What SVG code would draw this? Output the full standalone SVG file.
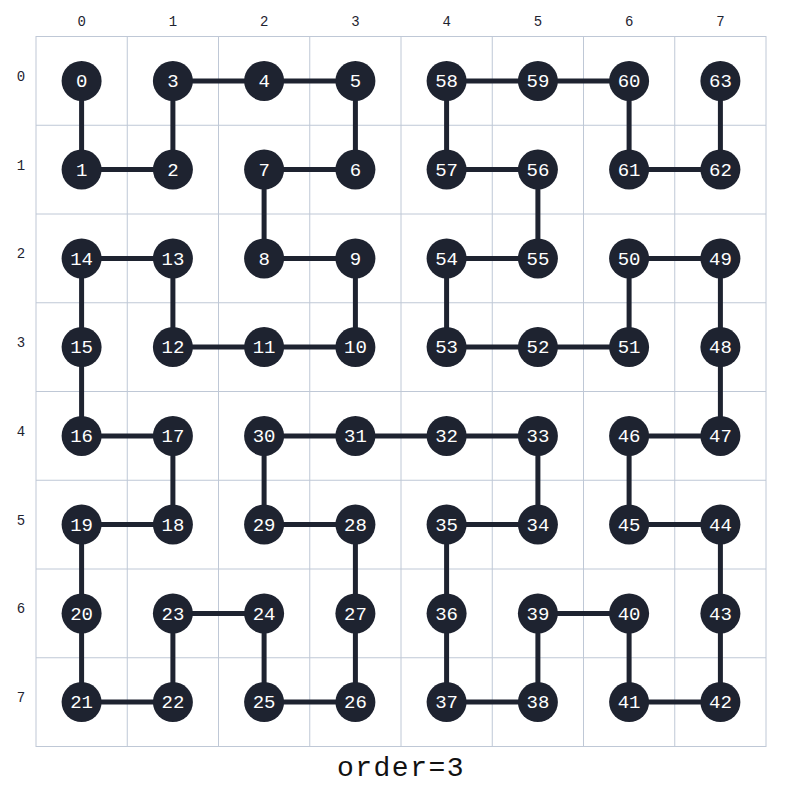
<svg xmlns="http://www.w3.org/2000/svg" width="797" height="794" viewBox="0 0 797 794">
<style>
.grid{stroke:#bfc8d6;stroke-width:1;fill:none}
.edge{stroke:#1e2330;stroke-width:5;fill:none;stroke-linecap:butt}
.node circle{fill:#1e2330}
.node text{fill:#ffffff;font-family:"Liberation Mono",monospace;font-size:19px;text-anchor:middle}
.axis{fill:#1e2330;font-family:"Liberation Mono",monospace;font-size:14px;text-anchor:middle}
.title{fill:#111111;font-family:"Liberation Mono",monospace;font-size:28px;letter-spacing:1.5px;text-anchor:middle}
</style>
<rect x="0" y="0" width="797" height="794" fill="#ffffff"/>
<g id="grid" class="grid">
<rect x="36" y="36.5" width="730" height="710"/>
<line x1="127.25" y1="36.5" x2="127.25" y2="746.5"/>
<line x1="218.5" y1="36.5" x2="218.5" y2="746.5"/>
<line x1="309.75" y1="36.5" x2="309.75" y2="746.5"/>
<line x1="401" y1="36.5" x2="401" y2="746.5"/>
<line x1="492.25" y1="36.5" x2="492.25" y2="746.5"/>
<line x1="583.5" y1="36.5" x2="583.5" y2="746.5"/>
<line x1="674.75" y1="36.5" x2="674.75" y2="746.5"/>
<line x1="36" y1="125.25" x2="766" y2="125.25"/>
<line x1="36" y1="214" x2="766" y2="214"/>
<line x1="36" y1="302.75" x2="766" y2="302.75"/>
<line x1="36" y1="391.5" x2="766" y2="391.5"/>
<line x1="36" y1="480.25" x2="766" y2="480.25"/>
<line x1="36" y1="569" x2="766" y2="569"/>
<line x1="36" y1="657.75" x2="766" y2="657.75"/>
</g>
<g id="axis-labels" class="axis">
<text x="81.6" y="26">0</text><text x="172.9" y="26">1</text><text x="264.1" y="26">2</text><text x="355.4" y="26">3</text><text x="446.6" y="26">4</text><text x="537.9" y="26">5</text><text x="629.1" y="26">6</text><text x="720.4" y="26">7</text>
<text x="21" y="81">0</text><text x="21" y="170">1</text><text x="21" y="258">2</text><text x="21" y="347">3</text><text x="21" y="436">4</text><text x="21" y="525">5</text><text x="21" y="613">6</text><text x="21" y="702">7</text>
</g>
<g id="connectors" class="edge">
<polyline points="81.6,80.9 81.6,169.6 172.9,169.6 172.9,80.9 264.1,80.9 355.4,80.9 355.4,169.6 264.1,169.6 264.1,258.4 355.4,258.4 355.4,347.1 264.1,347.1 172.9,347.1 172.9,258.4 81.6,258.4 81.6,347.1 81.6,435.9 172.9,435.9 172.9,524.6 81.6,524.6 81.6,613.4 81.6,702.1 172.9,702.1 172.9,613.4 264.1,613.4 264.1,702.1 355.4,702.1 355.4,613.4 355.4,524.6 264.1,524.6 264.1,435.9 355.4,435.9 446.6,435.9 537.9,435.9 537.9,524.6 446.6,524.6 446.6,613.4 446.6,702.1 537.9,702.1 537.9,613.4 629.1,613.4 629.1,702.1 720.4,702.1 720.4,613.4 720.4,524.6 629.1,524.6 629.1,435.9 720.4,435.9 720.4,347.1 720.4,258.4 629.1,258.4 629.1,347.1 537.9,347.1 446.6,347.1 446.6,258.4 537.9,258.4 537.9,169.6 446.6,169.6 446.6,80.9 537.9,80.9 629.1,80.9 629.1,169.6 720.4,169.6 720.4,80.9"/>
</g>
<g id="nodes">
<g id="n0" class="node"><circle cx="81.6" cy="80.9" r="20"/><text x="81.6" y="87">0</text></g>
<g id="n1" class="node"><circle cx="81.6" cy="169.6" r="20"/><text x="81.6" y="175.7">1</text></g>
<g id="n2" class="node"><circle cx="172.9" cy="169.6" r="20"/><text x="172.9" y="175.7">2</text></g>
<g id="n3" class="node"><circle cx="172.9" cy="80.9" r="20"/><text x="172.9" y="87">3</text></g>
<g id="n4" class="node"><circle cx="264.1" cy="80.9" r="20"/><text x="264.1" y="87">4</text></g>
<g id="n5" class="node"><circle cx="355.4" cy="80.9" r="20"/><text x="355.4" y="87">5</text></g>
<g id="n6" class="node"><circle cx="355.4" cy="169.6" r="20"/><text x="355.4" y="175.7">6</text></g>
<g id="n7" class="node"><circle cx="264.1" cy="169.6" r="20"/><text x="264.1" y="175.7">7</text></g>
<g id="n8" class="node"><circle cx="264.1" cy="258.4" r="20"/><text x="264.1" y="264.5">8</text></g>
<g id="n9" class="node"><circle cx="355.4" cy="258.4" r="20"/><text x="355.4" y="264.5">9</text></g>
<g id="n10" class="node"><circle cx="355.4" cy="347.1" r="20"/><text x="355.4" y="353.2">10</text></g>
<g id="n11" class="node"><circle cx="264.1" cy="347.1" r="20"/><text x="264.1" y="353.2">11</text></g>
<g id="n12" class="node"><circle cx="172.9" cy="347.1" r="20"/><text x="172.9" y="353.2">12</text></g>
<g id="n13" class="node"><circle cx="172.9" cy="258.4" r="20"/><text x="172.9" y="264.5">13</text></g>
<g id="n14" class="node"><circle cx="81.6" cy="258.4" r="20"/><text x="81.6" y="264.5">14</text></g>
<g id="n15" class="node"><circle cx="81.6" cy="347.1" r="20"/><text x="81.6" y="353.2">15</text></g>
<g id="n16" class="node"><circle cx="81.6" cy="435.9" r="20"/><text x="81.6" y="442">16</text></g>
<g id="n17" class="node"><circle cx="172.9" cy="435.9" r="20"/><text x="172.9" y="442">17</text></g>
<g id="n18" class="node"><circle cx="172.9" cy="524.6" r="20"/><text x="172.9" y="530.7">18</text></g>
<g id="n19" class="node"><circle cx="81.6" cy="524.6" r="20"/><text x="81.6" y="530.7">19</text></g>
<g id="n20" class="node"><circle cx="81.6" cy="613.4" r="20"/><text x="81.6" y="619.5">20</text></g>
<g id="n21" class="node"><circle cx="81.6" cy="702.1" r="20"/><text x="81.6" y="708.2">21</text></g>
<g id="n22" class="node"><circle cx="172.9" cy="702.1" r="20"/><text x="172.9" y="708.2">22</text></g>
<g id="n23" class="node"><circle cx="172.9" cy="613.4" r="20"/><text x="172.9" y="619.5">23</text></g>
<g id="n24" class="node"><circle cx="264.1" cy="613.4" r="20"/><text x="264.1" y="619.5">24</text></g>
<g id="n25" class="node"><circle cx="264.1" cy="702.1" r="20"/><text x="264.1" y="708.2">25</text></g>
<g id="n26" class="node"><circle cx="355.4" cy="702.1" r="20"/><text x="355.4" y="708.2">26</text></g>
<g id="n27" class="node"><circle cx="355.4" cy="613.4" r="20"/><text x="355.4" y="619.5">27</text></g>
<g id="n28" class="node"><circle cx="355.4" cy="524.6" r="20"/><text x="355.4" y="530.7">28</text></g>
<g id="n29" class="node"><circle cx="264.1" cy="524.6" r="20"/><text x="264.1" y="530.7">29</text></g>
<g id="n30" class="node"><circle cx="264.1" cy="435.9" r="20"/><text x="264.1" y="442">30</text></g>
<g id="n31" class="node"><circle cx="355.4" cy="435.9" r="20"/><text x="355.4" y="442">31</text></g>
<g id="n32" class="node"><circle cx="446.6" cy="435.9" r="20"/><text x="446.6" y="442">32</text></g>
<g id="n33" class="node"><circle cx="537.9" cy="435.9" r="20"/><text x="537.9" y="442">33</text></g>
<g id="n34" class="node"><circle cx="537.9" cy="524.6" r="20"/><text x="537.9" y="530.7">34</text></g>
<g id="n35" class="node"><circle cx="446.6" cy="524.6" r="20"/><text x="446.6" y="530.7">35</text></g>
<g id="n36" class="node"><circle cx="446.6" cy="613.4" r="20"/><text x="446.6" y="619.5">36</text></g>
<g id="n37" class="node"><circle cx="446.6" cy="702.1" r="20"/><text x="446.6" y="708.2">37</text></g>
<g id="n38" class="node"><circle cx="537.9" cy="702.1" r="20"/><text x="537.9" y="708.2">38</text></g>
<g id="n39" class="node"><circle cx="537.9" cy="613.4" r="20"/><text x="537.9" y="619.5">39</text></g>
<g id="n40" class="node"><circle cx="629.1" cy="613.4" r="20"/><text x="629.1" y="619.5">40</text></g>
<g id="n41" class="node"><circle cx="629.1" cy="702.1" r="20"/><text x="629.1" y="708.2">41</text></g>
<g id="n42" class="node"><circle cx="720.4" cy="702.1" r="20"/><text x="720.4" y="708.2">42</text></g>
<g id="n43" class="node"><circle cx="720.4" cy="613.4" r="20"/><text x="720.4" y="619.5">43</text></g>
<g id="n44" class="node"><circle cx="720.4" cy="524.6" r="20"/><text x="720.4" y="530.7">44</text></g>
<g id="n45" class="node"><circle cx="629.1" cy="524.6" r="20"/><text x="629.1" y="530.7">45</text></g>
<g id="n46" class="node"><circle cx="629.1" cy="435.9" r="20"/><text x="629.1" y="442">46</text></g>
<g id="n47" class="node"><circle cx="720.4" cy="435.9" r="20"/><text x="720.4" y="442">47</text></g>
<g id="n48" class="node"><circle cx="720.4" cy="347.1" r="20"/><text x="720.4" y="353.2">48</text></g>
<g id="n49" class="node"><circle cx="720.4" cy="258.4" r="20"/><text x="720.4" y="264.5">49</text></g>
<g id="n50" class="node"><circle cx="629.1" cy="258.4" r="20"/><text x="629.1" y="264.5">50</text></g>
<g id="n51" class="node"><circle cx="629.1" cy="347.1" r="20"/><text x="629.1" y="353.2">51</text></g>
<g id="n52" class="node"><circle cx="537.9" cy="347.1" r="20"/><text x="537.9" y="353.2">52</text></g>
<g id="n53" class="node"><circle cx="446.6" cy="347.1" r="20"/><text x="446.6" y="353.2">53</text></g>
<g id="n54" class="node"><circle cx="446.6" cy="258.4" r="20"/><text x="446.6" y="264.5">54</text></g>
<g id="n55" class="node"><circle cx="537.9" cy="258.4" r="20"/><text x="537.9" y="264.5">55</text></g>
<g id="n56" class="node"><circle cx="537.9" cy="169.6" r="20"/><text x="537.9" y="175.7">56</text></g>
<g id="n57" class="node"><circle cx="446.6" cy="169.6" r="20"/><text x="446.6" y="175.7">57</text></g>
<g id="n58" class="node"><circle cx="446.6" cy="80.9" r="20"/><text x="446.6" y="87">58</text></g>
<g id="n59" class="node"><circle cx="537.9" cy="80.9" r="20"/><text x="537.9" y="87">59</text></g>
<g id="n60" class="node"><circle cx="629.1" cy="80.9" r="20"/><text x="629.1" y="87">60</text></g>
<g id="n61" class="node"><circle cx="629.1" cy="169.6" r="20"/><text x="629.1" y="175.7">61</text></g>
<g id="n62" class="node"><circle cx="720.4" cy="169.6" r="20"/><text x="720.4" y="175.7">62</text></g>
<g id="n63" class="node"><circle cx="720.4" cy="80.9" r="20"/><text x="720.4" y="87">63</text></g>
</g>
<text class="title" x="401" y="776">order=3</text>
</svg>
